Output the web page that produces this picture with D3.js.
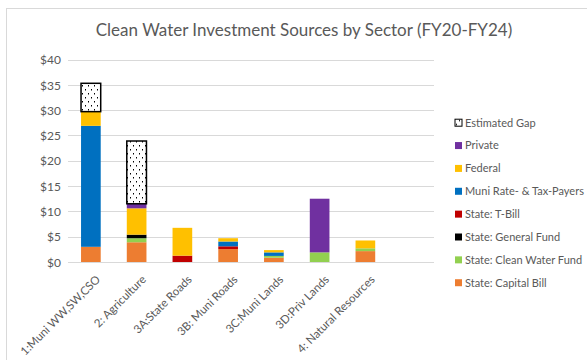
<!DOCTYPE html>
<html>
<head>
<meta charset="utf-8">
<script src="https://cdn.jsdelivr.net/npm/d3@7/dist/d3.min.js"></script>
<style>
  html, body { margin: 0; padding: 0; background: #fff; }
  svg { display: block; }
  text { font-family: Lato, "Open Sans", sans-serif; fill: #595959; }
</style>
</head>
<body>
<svg id="chart" width="587" height="360"></svg>
<script>
// Sectors along the x axis
const categories = [
  "1:Muni WW,SW,CSO", "2: Agriculture", "3A:State Roads", "3B: Muni Roads",
  "3C:Muni Lands", "3D:Priv Lands", "4: Natural Resources"
];

// Funding sources, $ millions, stacked bottom to top
const capitalBill     = [3.0, 3.9, 0,    2.55, 0.85, 0,    2.15];
const cleanWaterFund  = [0,   0.8, 0,    0,    0.35, 1.9,  0.55];
const generalFund     = [0,   0.7, 0,    0,    0,    0,    0];
const tBill           = [0,   0,   1.25, 0.55, 0,    0,    0];
const muniRatePayers  = [23.9, 0,  0,    0.95, 0.7,  0,    0];
const federal         = [2.8, 5.2, 5.5,  0.65, 0.45, 0,    1.55];
const privateFunds    = [0,   0.9, 0,    0,    0,    10.6, 0];
const estimatedGap    = [5.6, 12.4, 0,   0,    0,    0,    0];

const seriesNames = [
  "State: Capital Bill", "State: Clean Water Fund", "State: General Fund",
  "State: T-Bill", "Muni Rate- & Tax-Payers", "Federal", "Private", "Estimated Gap"
];
const seriesValues = [
  capitalBill, cleanWaterFund, generalFund, tBill,
  muniRatePayers, federal, privateFunds, estimatedGap
];
const seriesColors = [
  "#ED7D31", "#92D050", "#000000", "#C00000",
  "#0070C0", "#FFC000", "#7030A0", "url(#dots)"
];

const yTicks = [0, 5, 10, 15, 20, 25, 30, 35, 40];

// Build the table d3.stack needs
const rows = categories.map((c, i) => {
  const r = { category: c };
  seriesNames.forEach((s, j) => { r[s] = seriesValues[j][i]; });
  return r;
});
const stacked = d3.stack().keys(seriesNames)(rows);

const svg = d3.select("#chart");

// Dotted fill for the funding gap
const defs = svg.append("defs");
const pat = defs.append("pattern")
  .attr("id", "dots").attr("patternUnits", "userSpaceOnUse")
  .attr("width", 6).attr("height", 8);
pat.append("rect").attr("width", 6).attr("height", 8).attr("fill", "#fff");
pat.append("rect").attr("x", 1).attr("y", 1).attr("width", 1).attr("height", 1.5).attr("fill", "#000");
pat.append("rect").attr("x", 4).attr("y", 5).attr("width", 1).attr("height", 1.5).attr("fill", "#000");

// Chart frame
svg.append("rect")
  .attr("x", 6.5).attr("y", 8.5).attr("width", 700).attr("height", 500)
  .attr("fill", "none").attr("stroke", "#D9D9D9");

const plotLeft = 68, plotRight = 434, bandStep = (plotRight - plotLeft) / 8;
const x = d3.scaleBand()
  .domain(categories)
  .range([plotLeft, plotLeft + bandStep * categories.length])
  .paddingInner(0.57).paddingOuter(0.285);
const y = d3.scaleLinear().domain([0, 40]).range([262, 59.5]);

// Title
svg.append("text")
  .attr("x", 304).attr("y", 36)
  .attr("text-anchor", "middle")
  .style("font-size", "17px")
  .text("Clean Water Investment Sources by Sector (FY20-FY24)");

// Gridlines
svg.append("g").selectAll("line")
  .data(yTicks).join("line")
  .attr("x1", plotLeft).attr("x2", plotRight)
  .attr("y1", d => Math.round(y(d)) + 0.5).attr("y2", d => Math.round(y(d)) + 0.5)
  .attr("stroke", "#D9D9D9").attr("stroke-width", 1);

// Y axis labels
const yAxis = svg.append("g")
  .attr("transform", `translate(${plotLeft - 4},0)`)
  .call(d3.axisLeft(y).tickValues(yTicks).tickSize(0).tickFormat(d => "$" + d));
yAxis.select(".domain").remove();
yAxis.selectAll("text")
  .attr("dy", "0.35em")
  .style("font-family", "Lato, sans-serif")
  .style("font-size", "12px").attr("fill", "#595959");

// Stacked bars
const layers = svg.append("g").selectAll("g")
  .data(stacked).join("g")
  .attr("fill", (d, i) => seriesColors[i]);

layers.selectAll("rect")
  .data(d => d.filter(p => p[1] - p[0] > 0).map(p => ({ p, key: d.key })))
  .join("rect")
  .attr("x", d => x(d.p.data.category))
  .attr("width", x.bandwidth())
  .attr("y", d => y(d.p[1]))
  .attr("height", d => y(d.p[0]) - y(d.p[1]))
  .attr("stroke", d => d.key === "Estimated Gap" ? "#000" : "none")
  .attr("stroke-width", d => d.key === "Estimated Gap" ? 1.5 : 0);

// Category labels, rotated
const xAxis = svg.append("g")
  .attr("transform", "translate(0,262)")
  .call(d3.axisBottom(x).tickSize(0));
xAxis.select(".domain").attr("stroke", "#D9D9D9");
xAxis.selectAll("text")
  .style("font-family", "Lato, sans-serif")
  .style("font-size", "11.5px").attr("fill", "#595959")
  .attr("text-anchor", "end")
  .attr("dx", 0).attr("dy", 0)
  .attr("transform", "translate(8,16) rotate(-45)");

// Legend, top entry is the top of the stack
const legendOrder = seriesNames.map((n, i) => i).reverse();
const legend = svg.append("g").selectAll("g")
  .data(legendOrder).join("g")
  .attr("transform", (d, k) => `translate(455,${122.7 + k * 22.86})`);
legend.append("rect")
  .attr("x", 0).attr("y", -3.5).attr("width", 7).attr("height", 7)
  .attr("fill", i => seriesColors[i])
  .attr("stroke", i => seriesNames[i] === "Estimated Gap" ? "#000" : "none");
legend.append("text")
  .attr("x", 10).attr("y", 0).attr("dy", "0.35em")
  .style("font-size", "11px")
  .text(i => seriesNames[i]);
</script>
</body>
</html>
